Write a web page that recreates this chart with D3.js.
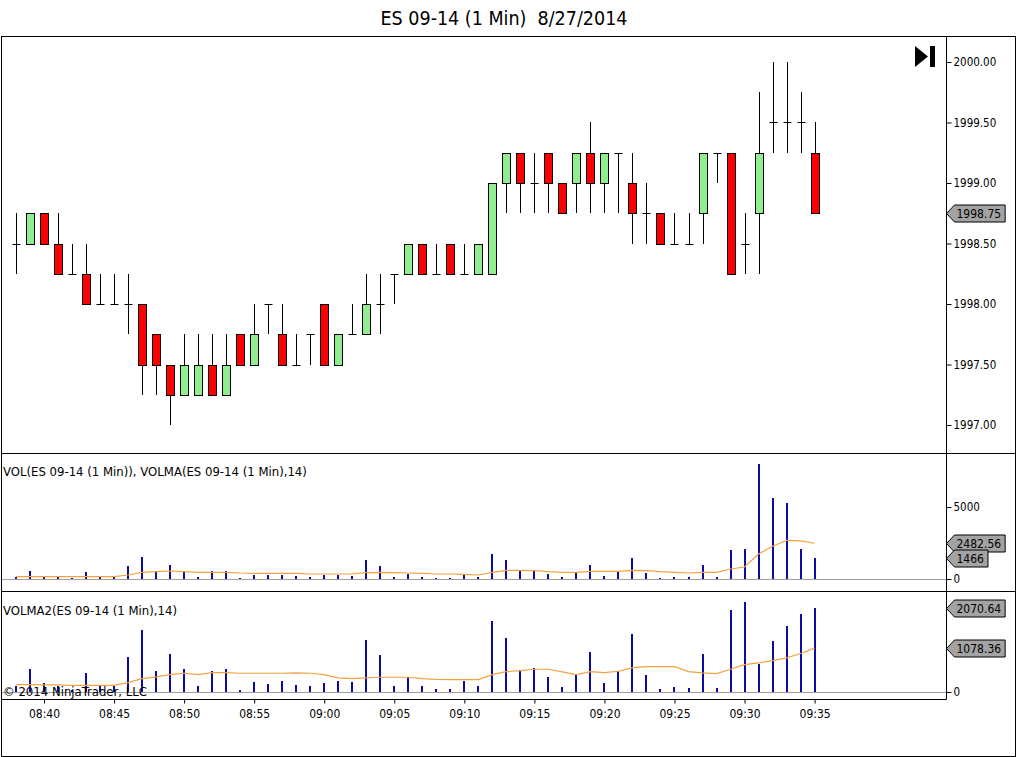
<!DOCTYPE html>
<html>
<head>
<meta charset="utf-8">
<script src="https://cdn.jsdelivr.net/npm/d3@7"></script>
<style>
  body { margin: 0; background: #fff; }
  #chart { width: 1016px; height: 757px; }
</style>
</head>
<body>
<div id="chart"></div>
<script>
// Chart title and indicator captions
const title = "ES 09-14 (1 Min)  8/27/2014";
const volCaption = "VOL(ES 09-14 (1 Min)), VOLMA(ES 09-14 (1 Min),14)";
const volma2Caption = "VOLMA2(ES 09-14 (1 Min),14)";
const copyright = "\u00a9 2014 NinjaTrader, LLC";

// One bar per minute, first bar at 08:38, last at 09:35
const firstBar = "08:38";
const lastBar = "09:35";

const open = [1998.5, 1998.5, 1998.75, 1998.5, 1998.25, 1998.25, 1998.0, 1998.0, 1998.0, 1998.0,
  1997.75, 1997.5, 1997.25, 1997.25, 1997.5, 1997.25, 1997.75, 1997.5, 1998.0, 1997.75,
  1997.5, 1997.75, 1998.0, 1997.5, 1997.75, 1997.75, 1998.0, 1998.25, 1998.25, 1998.5,
  1998.25, 1998.5, 1998.25, 1998.25, 1998.25, 1999.0, 1999.25, 1999.0, 1999.25, 1999.0,
  1999.0, 1999.25, 1999.0, 1999.25, 1999.0, 1998.75, 1998.75, 1998.5, 1998.5, 1998.75,
  1999.25, 1999.25, 1998.5, 1998.75, 1999.5, 1999.5, 1999.5, 1999.25];
const high = [1998.75, 1998.75, 1998.75, 1998.75, 1998.5, 1998.5, 1998.25, 1998.25, 1998.25, 1998.0,
  1997.75, 1997.5, 1997.75, 1997.75, 1997.75, 1997.75, 1997.75, 1998.0, 1998.0, 1998.0,
  1997.75, 1997.75, 1998.0, 1997.75, 1998.0, 1998.25, 1998.25, 1998.25, 1998.5, 1998.5,
  1998.5, 1998.5, 1998.5, 1998.5, 1999.0, 1999.25, 1999.25, 1999.25, 1999.25, 1999.0,
  1999.25, 1999.5, 1999.25, 1999.25, 1999.25, 1999.0, 1998.75, 1998.75, 1998.75, 1999.25,
  1999.25, 1999.25, 1998.75, 1999.75, 2000.0, 2000.0, 1999.75, 1999.5];
const low = [1998.25, 1998.5, 1998.5, 1998.25, 1998.25, 1998.0, 1998.0, 1998.0, 1997.75, 1997.25,
  1997.25, 1997.0, 1997.25, 1997.25, 1997.25, 1997.25, 1997.5, 1997.5, 1997.75, 1997.5,
  1997.5, 1997.5, 1997.5, 1997.5, 1997.75, 1997.75, 1997.75, 1998.0, 1998.25, 1998.25,
  1998.25, 1998.25, 1998.25, 1998.25, 1998.25, 1998.75, 1998.75, 1998.75, 1998.75, 1998.75,
  1998.75, 1998.75, 1998.75, 1998.75, 1998.5, 1998.5, 1998.5, 1998.5, 1998.5, 1998.5,
  1999.0, 1998.25, 1998.25, 1998.25, 1999.25, 1999.25, 1999.25, 1998.75];
const close = [1998.5, 1998.75, 1998.5, 1998.25, 1998.25, 1998.0, 1998.0, 1998.0, 1998.0, 1997.5,
  1997.5, 1997.25, 1997.5, 1997.5, 1997.25, 1997.5, 1997.5, 1997.75, 1998.0, 1997.5,
  1997.5, 1997.75, 1997.5, 1997.75, 1997.75, 1998.0, 1998.0, 1998.25, 1998.5, 1998.25,
  1998.25, 1998.25, 1998.25, 1998.5, 1999.0, 1999.25, 1999.0, 1999.0, 1999.0, 1998.75,
  1999.25, 1999.0, 1999.25, 1999.25, 1998.75, 1998.75, 1998.5, 1998.5, 1998.5, 1999.25,
  1999.25, 1998.25, 1998.5, 1999.25, 1999.5, 1999.5, 1999.5, 1998.75];

// VOL panel: volume bars and the 14 period VOLMA line
const volume = [140, 555, 140, 140, 50, 485, 140, 140, 900, 1525,
  555, 970, 555, 140, 555, 555, 50, 280, 280, 280,
  210, 140, 280, 280, 210, 1315, 900, 140, 350, 140,
  70, 70, 278, 139, 1738, 1320, 556, 556, 348, 139,
  417, 973, 208, 487, 1460, 417, 70, 139, 139, 973,
  139, 2016, 2085, 7994, 5630, 5283, 2085, 1466];
const volumeMA = [162, 162, 162, 162, 162, 162, 162, 162, 278, 463,
  510, 556, 510, 463, 463, 463, 417, 394, 394, 394,
  394, 348, 348, 348, 348, 440, 463, 440, 417, 394,
  348, 348, 324, 278, 463, 602, 602, 579, 510, 463,
  463, 533, 533, 533, 602, 579, 510, 463, 417, 463,
  463, 695, 834, 1738, 2270, 2688, 2641, 2482.56];

// VOLMA2 panel: bars and line
const volma2Bars = [140, 559, 214, 140, 50, 460, 140, 148, 855, 1520,
  509, 928, 559, 148, 509, 559, 41, 238, 197, 263,
  173, 148, 214, 263, 238, 1274, 904, 148, 370, 148,
  74, 74, 271, 148, 1750, 1331, 534, 592, 370, 123,
  419, 986, 222, 509, 1430, 419, 74, 123, 99, 937,
  99, 2013, 2219, 682, 1249, 1619, 1915, 2070.64];
const volma2Line = [181, 181, 173, 173, 165, 165, 165, 165, 230, 329,
  370, 427, 460, 427, 477, 477, 460, 460, 460, 460,
  468, 460, 427, 345, 329, 345, 362, 362, 362, 329,
  312, 304, 304, 304, 427, 501, 526, 559, 559, 493,
  427, 501, 477, 509, 600, 624, 624, 624, 501, 468,
  452, 559, 674, 715, 772, 838, 945, 1078.36];

// Axis tick values
const priceTicks = [1997.0, 1997.5, 1998.0, 1998.5, 1999.0, 1999.5, 2000.0];
const volTicks = [0, 5000];
const volma2Ticks = [0];
const timeTicks = ["08:40", "08:45", "08:50", "08:55", "09:00", "09:05", "09:10",
  "09:15", "09:20", "09:25", "09:30", "09:35"];

// Page layout
const width = 1016, height = 757;
const frame = { left: 1.5, right: 1015.5, top: 36.5, bottom: 756.5 };
const axisX = 946.5;
const panels = {
  price: { top: 36.5, bottom: 453.5 },
  vol: { top: 453.5, bottom: 591.5 },
  volma2: { top: 591.5, bottom: 699.5 }
};
const font = "'DejaVu Sans Condensed', 'Liberation Sans', sans-serif";

const parseTime = d3.timeParse("%H:%M");
const fmtTime = d3.timeFormat("%H:%M");
const times = d3.timeMinute.range(parseTime(firstBar), d3.timeMinute.offset(parseTime(lastBar), 1));
const bars = times.map((t, i) => ({
  t, o: open[i], h: high[i], l: low[i], c: close[i],
  v: volume[i], vma: volumeMA[i], v2: volma2Bars[i], v2ma: volma2Line[i]
}));

// Scales
const x = d3.scaleTime()
  .domain([parseTime(firstBar), parseTime(lastBar)])
  .range([16, 814.6]);
const yPrice = d3.scaleLinear().domain([1997, 2000]).range([425, 62]);
const yVol = d3.scaleLinear().domain([0, 5000]).range([579, 507]);
const yVol2 = d3.scaleLinear().domain([0, 2070.64]).range([692, 607.7]);

const px = d => Math.round(x(d.t)) + 0.5;

const svg = d3.create("svg")
  .attr("width", width)
  .attr("height", height)
  .attr("viewBox", [0, 0, width, height])
  .style("font-family", font);

// Attach early so text lengths can be measured for the value markers
document.getElementById("chart").appendChild(svg.node());

svg.append("rect").attr("width", width).attr("height", height).attr("fill", "#fff");

// Title
svg.append("text")
  .attr("x", 504).attr("y", 25)
  .attr("text-anchor", "middle")
  .style("font-size", "19.5px")
  .style("white-space", "pre")
  .text(title);

// Zero lines of the two volume panels
svg.append("line")
  .attr("x1", frame.left).attr("x2", axisX)
  .attr("y1", Math.round(yVol(0)) + 0.5).attr("y2", Math.round(yVol(0)) + 0.5)
  .attr("stroke", "#a0a0a0");
svg.append("line")
  .attr("x1", frame.left).attr("x2", axisX)
  .attr("y1", Math.round(yVol2(0)) + 0.5).attr("y2", Math.round(yVol2(0)) + 0.5)
  .attr("stroke", "#a0a0a0");

// Candles: wicks first, then bodies (or a flat dash when open equals close)
const candles = svg.append("g");
candles.selectAll("line.wick")
  .data(bars)
  .join("line")
  .attr("class", "wick")
  .attr("x1", px).attr("x2", px)
  .attr("y1", d => Math.round(yPrice(d.h)))
  .attr("y2", d => Math.round(yPrice(d.l)))
  .attr("stroke", "#000");
candles.selectAll("rect")
  .data(bars.filter(d => d.o !== d.c))
  .join("rect")
  .attr("x", d => px(d) - 4)
  .attr("width", 8)
  .attr("y", d => Math.round(yPrice(Math.max(d.o, d.c))) + 0.5)
  .attr("height", d => Math.round(yPrice(Math.min(d.o, d.c))) - Math.round(yPrice(Math.max(d.o, d.c))))
  .attr("fill", d => d.c > d.o ? "#90ee90" : "#ff0000")
  .attr("stroke", "#000");
candles.selectAll("line.doji")
  .data(bars.filter(d => d.o === d.c))
  .join("line")
  .attr("class", "doji")
  .attr("x1", d => px(d) - 4).attr("x2", d => px(d) + 4)
  .attr("y1", d => Math.round(yPrice(d.c)) + 0.5)
  .attr("y2", d => Math.round(yPrice(d.c)) + 0.5)
  .attr("stroke", "#000");

// Volume bars
svg.append("g").selectAll("rect")
  .data(bars)
  .join("rect")
  .attr("x", d => px(d) - 1.5)
  .attr("width", 2)
  .attr("y", d => Math.round(yVol(d.v)))
  .attr("height", d => Math.round(yVol(0)) - Math.round(yVol(d.v)))
  .attr("fill", "#0c0ca0");
svg.append("path")
  .datum(bars)
  .attr("fill", "none")
  .attr("stroke", "#f2a242")
  .attr("stroke-width", 1.2)
  .attr("d", d3.line().x(d => x(d.t)).y(d => yVol(d.vma)));

// VOLMA2 bars and line
svg.append("g").selectAll("rect")
  .data(bars)
  .join("rect")
  .attr("x", d => px(d) - 1.5)
  .attr("width", 2)
  .attr("y", d => Math.round(yVol2(d.v2)))
  .attr("height", d => Math.round(yVol2(0)) - Math.round(yVol2(d.v2)))
  .attr("fill", "#0c0ca0");
svg.append("path")
  .datum(bars)
  .attr("fill", "none")
  .attr("stroke", "#f2a242")
  .attr("stroke-width", 1.2)
  .attr("d", d3.line().x(d => x(d.t)).y(d => yVol2(d.v2ma)));

// Frame, panel separators and the price axis line
const frameG = svg.append("g").attr("stroke", "#000").attr("fill", "none");
frameG.append("rect")
  .attr("x", frame.left).attr("y", frame.top)
  .attr("width", frame.right - frame.left).attr("height", frame.bottom - frame.top);
frameG.append("line")
  .attr("x1", frame.left).attr("x2", frame.right)
  .attr("y1", panels.vol.top).attr("y2", panels.vol.top);
frameG.append("line")
  .attr("x1", frame.left).attr("x2", frame.right)
  .attr("y1", panels.volma2.top).attr("y2", panels.volma2.top);
frameG.append("line")
  .attr("x1", frame.left).attr("x2", axisX)
  .attr("y1", panels.volma2.bottom).attr("y2", panels.volma2.bottom);
frameG.append("line")
  .attr("x1", axisX).attr("x2", axisX)
  .attr("y1", frame.top).attr("y2", panels.volma2.bottom);

// Right hand axes
function rightAxis(scale, ticks, fmt) {
  const g = svg.append("g")
    .attr("transform", `translate(${axisX},0)`)
    .style("font-family", font)
    .call(d3.axisRight(scale).tickValues(ticks).tickFormat(fmt).tickSize(5).tickPadding(2));
  g.select(".domain").remove();
  g.selectAll("text").style("font-size", "11.5px").attr("fill", "#000");
  g.selectAll(".tick line").attr("stroke", "#000");
}
rightAxis(yPrice, priceTicks, d3.format(".2f"));
rightAxis(yVol, volTicks, d3.format("d"));
rightAxis(yVol2, volma2Ticks, d3.format("d"));

// Time axis below the last panel
const xAxis = svg.append("g")
  .attr("transform", `translate(0,${panels.volma2.bottom})`)
  .style("font-family", font)
  .call(d3.axisBottom(x)
    .tickValues(timeTicks.map(parseTime))
    .tickFormat(fmtTime)
    .tickSize(4)
    .tickPadding(6));
xAxis.select(".domain").remove();
xAxis.selectAll("text").style("font-size", "12px").attr("fill", "#000");

// Value markers on the right axis
function marker(scale, value, label) {
  const y = Math.round(scale(value)) + 0.5;
  const g = svg.append("g").attr("transform", `translate(${axisX},${y})`);
  const t = g.append("text")
    .attr("x", 10).attr("dy", "0.36em")
    .style("font-size", "12px")
    .text(label);
  const w = t.node().getComputedTextLength() + 14;
  g.insert("path", "text")
    .attr("d", `M0,0 L8,-8.5 L${w},-8.5 L${w},8.5 L8,8.5 Z`)
    .attr("fill", "#a3a3a3")
    .attr("stroke", "#000");
}
marker(yPrice, close[close.length - 1], d3.format(".2f")(close[close.length - 1]));
marker(yVol, volumeMA[volumeMA.length - 1], d3.format(".2f")(volumeMA[volumeMA.length - 1]));
marker(yVol, volume[volume.length - 1], d3.format("d")(volume[volume.length - 1]));
marker(yVol2, volma2Bars[volma2Bars.length - 1], d3.format(".2f")(volma2Bars[volma2Bars.length - 1]));
marker(yVol2, volma2Line[volma2Line.length - 1], d3.format(".2f")(volma2Line[volma2Line.length - 1]));

// Panel captions and copyright
svg.append("text").attr("x", 3).attr("y", 476).style("font-size", "13px").text(volCaption);
svg.append("text").attr("x", 3).attr("y", 615).style("font-size", "13px").text(volma2Caption);
svg.append("text").attr("x", 3).attr("y", 696).style("font-size", "13px").text(copyright);

// "Go to last bar" button glyph
svg.append("path").attr("d", "M915,46 L928,56.5 L915,67 Z").attr("fill", "#000");
svg.append("rect").attr("x", 930).attr("y", 46).attr("width", 5).attr("height", 21).attr("fill", "#000");
</script>
</body>
</html>
